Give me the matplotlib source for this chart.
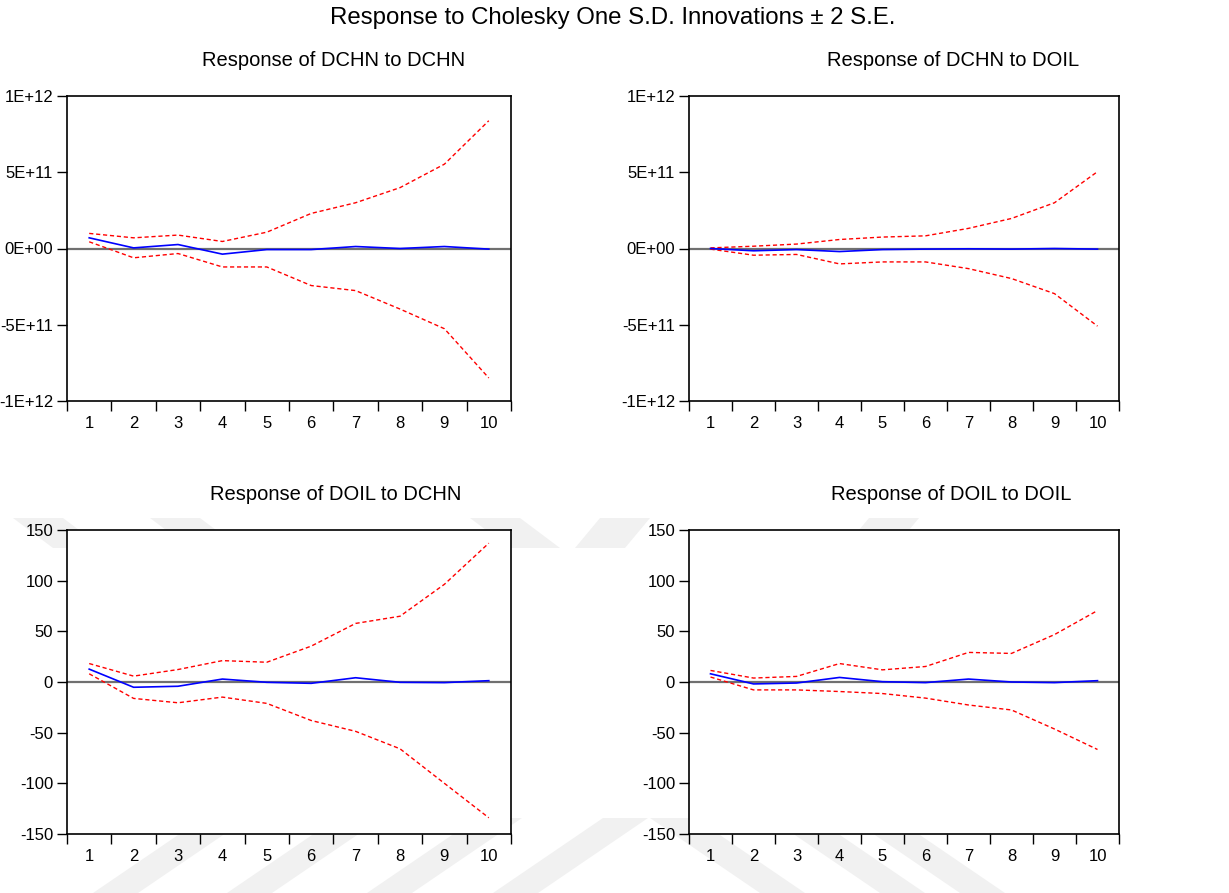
import numpy as np
import matplotlib
matplotlib.use("Agg")
import matplotlib.pyplot as plt
from matplotlib.patches import Polygon
from matplotlib.ticker import FixedLocator, NullFormatter

plt.rcParams['font.family'] = ['Liberation Sans', 'DejaVu Sans']

periods = list(range(1, 11))

# Response of DCHN to DCHN (units of 1E+11)
chn_chn = [0.70, 0.04, 0.26, -0.37, -0.07, -0.07, 0.13, 0.00, 0.13, -0.04]
chn_chn_up = [0.99, 0.70, 0.88, 0.46, 1.07, 2.30, 3.00, 3.99, 5.53, 8.38]
chn_chn_lo = [0.44, -0.61, -0.33, -1.21, -1.21, -2.43, -2.76, -3.97, -5.26, -8.49]

# Response of DCHN to DOIL (units of 1E+11)
chn_oil = [0.00, -0.15, -0.07, -0.20, -0.07, -0.04, -0.02, -0.04, 0.00, -0.04]
chn_oil_up = [0.04, 0.15, 0.29, 0.59, 0.75, 0.83, 1.32, 1.97, 3.00, 5.04]
chn_oil_lo = [-0.04, -0.44, -0.39, -1.01, -0.88, -0.88, -1.32, -1.97, -2.96, -5.09]

# Response of DOIL to DCHN
oil_chn = [12.7, -5.2, -4.2, 2.9, -0.3, -1.3, 4.2, -0.3, -0.6, 1.3]
oil_chn_up = [18.2, 5.8, 12.3, 21.1, 19.5, 35.4, 57.8, 64.9, 96.4, 137.0]
oil_chn_lo = [8.1, -16.2, -20.5, -14.9, -21.1, -38.0, -48.7, -65.9, -100.0, -134.0]

# Response of DOIL to DOIL
oil_oil = [8.1, -1.9, -1.0, 4.5, 0.3, -0.6, 2.9, 0.0, -0.6, 1.3]
oil_oil_up = [11.4, 3.9, 5.5, 18.2, 12.0, 15.3, 29.2, 28.2, 46.8, 70.5]
oil_oil_lo = [4.9, -7.8, -7.8, -9.4, -11.4, -15.9, -22.7, -27.6, -46.4, -66.6]

big_ticks = [-1e12, -5e11, 0, 5e11, 1e12]
big_labels = ['-1E+12', '-5E+11', '0E+00', '5E+11', '1E+12']
small_ticks = [-150, -100, -50, 0, 50, 100, 150]
small_labels = ['-150', '-100', '-50', '0', '50', '100', '150']

W, H = 1229, 893
fig = plt.figure(figsize=(W / 100, H / 100), dpi=100)

# faint watermark bands from the source document (pixel coords), behind the axes
def band(x0, x1, y0, dx, dy):
    pts = [(x0, y0), (x1, y0), (x1 + dx, y0 + dy), (x0 + dx, y0 + dy)]
    return [(x / W, 1 - y / H) for x, y in pts]

wm = '#f1f1f1'
for x0 in [93, 227, 367, 493]:
    fig.patches.append(Polygon(band(x0, x0 + 45, 893, 110, -75), closed=True,
                               transform=fig.transFigure, fc=wm, ec='none', zorder=-5))
for x0 in [760, 880, 960]:
    fig.patches.append(Polygon(band(x0, x0 + 45, 893, -110, -75), closed=True,
                               transform=fig.transFigure, fc=wm, ec='none', zorder=-5))
for x0 in [13, 150, 470]:
    fig.patches.append(Polygon(band(x0, x0 + 50, 518, 40, 30), closed=True,
                               transform=fig.transFigure, fc=wm, ec='none', zorder=-5))
for x0 in [600, 869]:
    fig.patches.append(Polygon(band(x0, x0 + 50, 518, -25, 30), closed=True,
                               transform=fig.transFigure, fc=wm, ec='none', zorder=-5))

panels = [
    ('Response of DCHN to DCHN', chn_chn, chn_chn_up, chn_chn_lo, 1e11, big_ticks, big_labels, (67, 96, 511, 401), 334),
    ('Response of DCHN to DOIL', chn_oil, chn_oil_up, chn_oil_lo, 1e11, big_ticks, big_labels, (689, 96, 1119, 401), 953),
    ('Response of DOIL to DCHN', oil_chn, oil_chn_up, oil_chn_lo, 1, small_ticks, small_labels, (67, 530, 511, 834), 336),
    ('Response of DOIL to DOIL', oil_oil, oil_oil_up, oil_oil_lo, 1, small_ticks, small_labels, (689, 530, 1119, 834), 951),
]

for title, mid, up, lo, scale, yt, yl, (l, t, r, b), tx in panels:
    ax = fig.add_axes([l / W, 1 - b / H, (r - l) / W, (b - t) / H])
    ax.set_zorder(1)
    ax.axhline(0, color='#707070', lw=1.6, zorder=1)
    ax.plot(periods, np.array(up) * scale, color='red', lw=1.0, ls=(0, (3, 2)), zorder=2)
    ax.plot(periods, np.array(lo) * scale, color='red', lw=1.0, ls=(0, (3, 2)), zorder=2)
    ax.plot(periods, np.array(mid) * scale, color='blue', lw=1.2, zorder=3)
    ax.set_xlim(0.5, 10.5)
    ax.set_ylim(yt[0], yt[-1])
    ax.set_yticks(yt)
    ax.set_yticklabels(yl)
    ax.xaxis.set_major_locator(FixedLocator(np.arange(0.5, 11, 1)))
    ax.xaxis.set_major_formatter(NullFormatter())
    ax.xaxis.set_minor_locator(FixedLocator(periods))
    ax.set_xticklabels([str(p) for p in periods], minor=True)
    ax.tick_params(axis='x', which='major', direction='out', length=7, width=1)
    ax.tick_params(axis='x', which='minor', length=0, pad=11, labelsize=12)
    ax.tick_params(axis='y', direction='out', length=7, width=1, pad=3, labelsize=12)
    for s in ax.spines.values():
        s.set_linewidth(1.2)
    fig.text(tx / W, 1 - (t - 36) / H, title, ha='center', va='center', fontsize=14.5)

fig.text(613 / W, 1 - 18 / H, 'Response to Cholesky One S.D. Innovations \u00b1 2 S.E.',
         ha='center', va='center', fontsize=17.3)

fig.savefig('out.png', dpi=100)
